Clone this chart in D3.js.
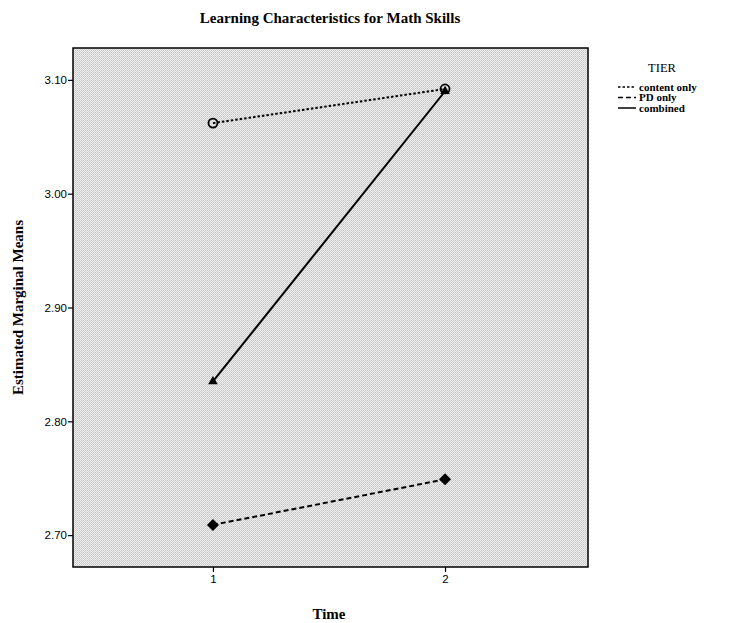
<!DOCTYPE html>
<html>
<head>
<meta charset="utf-8">
<script src="https://cdn.jsdelivr.net/npm/d3@7"></script>
<style>
  body { margin: 0; background: #fff; }
</style>
</head>
<body>
<div id="chart"></div>
<script>
// data
const times = [1, 2];
const contentOnly = [3.062, 3.092];
const pdOnly = [2.709, 2.749];
const combined = [2.835, 3.090];
const yTicks = [2.70, 2.80, 2.90, 3.00, 3.10];
const tierNames = ["content only", "PD only", "combined"];

const W = 733, H = 623;
const margin = {top: 48, right: 145, bottom: 56, left: 73};
const width = W - margin.left - margin.right,
      height = H - margin.top - margin.bottom;

const svg = d3.select("#chart").append("svg")
    .attr("width", W).attr("height", H);

// stippled gray background, like the scanned SPSS chart
const defs = svg.append("defs");
const pat = defs.append("pattern")
    .attr("id", "stipple").attr("width", 2).attr("height", 2)
    .attr("patternUnits", "userSpaceOnUse");
pat.append("rect").attr("width", 2).attr("height", 2).attr("fill", "#efefef");
pat.append("rect").attr("width", 1).attr("height", 1).attr("fill", "#c2c2c2");
pat.append("rect").attr("x", 1).attr("y", 1).attr("width", 1).attr("height", 1).attr("fill", "#d2d2d2");

const g = svg.append("g").attr("transform", `translate(${margin.left},${margin.top})`);

const x = d3.scaleLinear().domain([0.397, 2.616]).range([0, width]);
const y = d3.scaleLinear().domain([2.672, 3.128]).range([height, 0]);

g.append("rect")
    .attr("width", width).attr("height", height)
    .attr("fill", "url(#stipple)")
    .attr("stroke", "#000").attr("stroke-width", 1.5);

// axes
const yAxis = g.append("g")
    .call(d3.axisLeft(y).tickValues(yTicks).tickFormat(d3.format(".2f")).tickSize(5).tickSizeOuter(0));
const xAxis = g.append("g")
    .attr("transform", `translate(0,${height})`)
    .call(d3.axisBottom(x).tickValues(times).tickFormat(d3.format("d")).tickSize(5).tickSizeOuter(0));
[xAxis, yAxis].forEach(a => {
  a.select(".domain").remove();
  a.selectAll("line").attr("stroke", "#000").attr("stroke-width", 1.2);
  a.selectAll("text").attr("font-family", "Liberation Sans, Arial, sans-serif")
    .attr("font-size", 11.5).attr("fill", "#000");
});
yAxis.selectAll("text").attr("x", -6);

// lines
const series = [
  {name: tierNames[0], vals: contentOnly, dash: "2.5,2", marker: "circle"},
  {name: tierNames[1], vals: pdOnly, dash: "5,3", marker: "diamond"},
  {name: tierNames[2], vals: combined, dash: null, marker: "triangle"}
];

const line = d3.line().x(d => x(d[0])).y(d => y(d[1]));

g.selectAll(".line")
  .data(series)
  .join("path")
    .attr("fill", "none")
    .attr("stroke", "#000")
    .attr("stroke-width", 2)
    .attr("stroke-dasharray", d => d.dash)
    .attr("d", d => line(times.map((t, i) => [t, d.vals[i]])));

// markers
series.forEach(s => {
  const pts = times.map((t, i) => [x(t), y(s.vals[i])]);
  if (s.marker === "circle") {
    g.selectAll(null).data(pts).join("circle")
      .attr("cx", d => d[0]).attr("cy", d => d[1]).attr("r", 4.5)
      .attr("fill", "none").attr("stroke", "#000").attr("stroke-width", 1.8);
  } else if (s.marker === "diamond") {
    g.selectAll(null).data(pts).join("path")
      .attr("transform", d => `translate(${d[0]},${d[1]}) rotate(45)`)
      .attr("d", d3.symbol(d3.symbolSquare, 72))
      .attr("fill", "#000");
  } else {
    g.selectAll(null).data(pts).join("path")
      .attr("transform", d => `translate(${d[0]},${d[1]})`)
      .attr("d", d3.symbol(d3.symbolTriangle, 40))
      .attr("fill", "#000");
  }
});

// titles
svg.append("text")
    .attr("x", 330).attr("y", 23)
    .attr("text-anchor", "middle")
    .attr("font-family", "Liberation Serif, Times New Roman, serif")
    .attr("font-weight", "bold").attr("font-size", 15)
    .text("Learning Characteristics for Math Skills");

svg.append("text")
    .attr("x", margin.left + x(1.5)).attr("y", 619)
    .attr("text-anchor", "middle")
    .attr("font-family", "Liberation Serif, Times New Roman, serif")
    .attr("font-weight", "bold").attr("font-size", 15)
    .text("Time");

svg.append("text")
    .attr("transform", `translate(23,${margin.top + height / 2}) rotate(-90)`)
    .attr("text-anchor", "middle")
    .attr("font-family", "Liberation Serif, Times New Roman, serif")
    .attr("font-weight", "bold").attr("font-size", 15)
    .text("Estimated Marginal Means");

// legend
const leg = svg.append("g").attr("transform", "translate(618,0)");
leg.append("text")
    .attr("x", 44).attr("y", 72)
    .attr("text-anchor", "middle")
    .attr("font-family", "Liberation Serif, Times New Roman, serif")
    .attr("font-size", 12.5)
    .text("TIER");
const items = leg.selectAll(".item").data(series).join("g")
    .attr("transform", (d, i) => `translate(0,${87 + i * 10.5})`);
items.append("line")
    .attr("x1", 0).attr("x2", 18)
    .attr("stroke", "#000").attr("stroke-width", 1.5)
    .attr("stroke-dasharray", d => d.dash);
items.append("text")
    .attr("x", 21).attr("y", 3.5)
    .attr("font-family", "Liberation Serif, Times New Roman, serif")
    .attr("font-weight", "bold")
    .attr("font-size", 11)
    .text(d => d.name);
</script>
</body>
</html>
